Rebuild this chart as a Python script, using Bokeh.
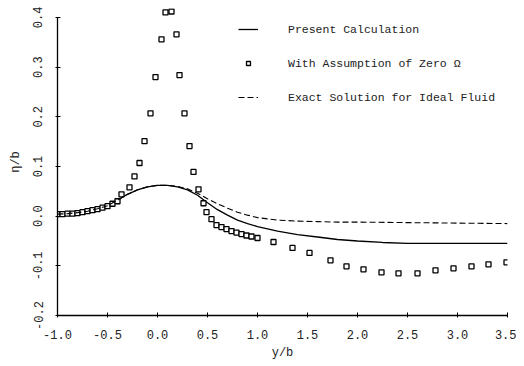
from bokeh.plotting import figure
from bokeh.models import FixedTicker, Legend, LegendItem, Range1d
from bokeh.embed import file_html
from bokeh.resources import INLINE

# Present Calculation (solid)
calc_x = [-1.0, -0.9, -0.8, -0.7, -0.6, -0.5, -0.4, -0.3, -0.2, -0.1, 0.0, 0.1, 0.2, 0.3, 0.4, 0.5,
          0.6, 0.7, 0.8, 0.9, 1.0, 1.2, 1.4, 1.6, 1.8, 2.0, 2.25, 2.5, 3.0, 3.5]
calc_y = [0.004, 0.005, 0.007, 0.010, 0.015, 0.021, 0.032, 0.044, 0.053, 0.059, 0.062, 0.062, 0.059,
          0.053, 0.042, 0.027, 0.013, 0.002, -0.008, -0.015, -0.021, -0.030, -0.037, -0.042, -0.047,
          -0.050, -0.053, -0.055, -0.055, -0.055]

# Exact Solution for Ideal Fluid (dashed)
exact_x = [-1.0, -0.9, -0.8, -0.7, -0.6, -0.5, -0.4, -0.3, -0.2, -0.1, 0.0, 0.1, 0.2, 0.3, 0.4, 0.5,
           0.6, 0.7, 0.8, 0.9, 1.0, 1.2, 1.4, 1.6, 1.8, 2.0, 2.5, 3.0, 3.5]
exact_y = [0.004, 0.005, 0.007, 0.010, 0.015, 0.021, 0.032, 0.044, 0.053, 0.059, 0.062, 0.062, 0.060,
           0.055, 0.046, 0.035, 0.025, 0.016, 0.008, 0.002, -0.003, -0.008, -0.010, -0.011, -0.012,
           -0.012, -0.013, -0.014, -0.015]

# With Assumption of Zero Omega (squares)
zero_x = [-1.0, -0.95, -0.9, -0.85, -0.8, -0.75, -0.7, -0.65, -0.6, -0.55, -0.5, -0.45, -0.4,
          -0.36, -0.28, -0.23, -0.18, -0.13, -0.07, -0.02, 0.04, 0.08, 0.14, 0.19, 0.22, 0.27,
          0.32, 0.36, 0.41, 0.46, 0.49, 0.54, 0.59, 0.64, 0.69, 0.74, 0.79, 0.84, 0.89, 0.94,
          1.0, 1.16, 1.35, 1.52, 1.73, 1.89, 2.06, 2.24, 2.41, 2.60, 2.78, 2.96, 3.14, 3.31, 3.49]
zero_y = [0.004, 0.004, 0.005, 0.005, 0.006, 0.008, 0.010, 0.012, 0.014, 0.017, 0.020, 0.025, 0.030,
          0.044, 0.058, 0.080, 0.107, 0.151, 0.207, 0.280, 0.356, 0.410, 0.412, 0.366, 0.284, 0.207,
          0.141, 0.089, 0.054, 0.026, 0.008, -0.006, -0.018, -0.022, -0.026, -0.030, -0.033, -0.036,
          -0.039, -0.041, -0.044, -0.052, -0.064, -0.074, -0.089, -0.101, -0.107, -0.113, -0.115,
          -0.115, -0.109, -0.105, -0.101, -0.097, -0.093]

x_ticks = [-1.0, -0.5, 0.0, 0.5, 1.0, 1.5, 2.0, 2.5, 3.0, 3.5]
y_ticks = [-0.2, -0.1, 0.0, 0.1, 0.2, 0.3, 0.4]
x_labels = ["-1.0", "-0.5", "0.0", "0.5", "1.0", "1.5", "2.0", "2.5", "3.0", "3.5"]
y_labels = ["-0.2", "-0.1", "0.0", "0.1", "0.2", "0.3", "0.4"]

FONT = "Liberation Mono"
INK = "#222222"

p = figure(width=516, height=362, output_backend="svg", toolbar_location=None,
           x_range=Range1d(-1.0, 3.5), y_range=Range1d(-0.2, 0.418),
           min_border_left=57, min_border_right=9, min_border_top=8, min_border_bottom=45)
p.outline_line_color = None
p.xgrid.visible = False
p.ygrid.visible = False

r_calc = p.line(calc_x, calc_y, line_color="black", line_width=1.3)
r_zero = p.scatter(zero_x, zero_y, marker="square", size=5, fill_color="white",
                   line_color="black", line_width=1.3)
r_exact = p.line(exact_x, exact_y, line_color="black", line_width=1.1, line_dash="6 3")

p.xaxis.ticker = FixedTicker(ticks=x_ticks)
p.yaxis.ticker = FixedTicker(ticks=y_ticks)
p.xaxis.major_label_overrides = {t: l for t, l in zip(x_ticks, x_labels)}
p.yaxis.major_label_overrides = {t: l for t, l in zip(y_ticks, y_labels)}
p.yaxis.major_label_orientation = "vertical"
p.yaxis.bounds = (-0.2, 0.4)

for ax in (p.xaxis[0], p.yaxis[0]):
    ax.axis_line_color = "black"
    ax.axis_line_width = 1.3
    ax.major_tick_line_color = "black"
    ax.major_tick_in = 3
    ax.major_tick_out = 2
    ax.minor_tick_line_color = None
    ax.major_label_text_font = FONT
    ax.major_label_text_font_size = "12px"
    ax.major_label_text_color = INK
    ax.axis_label_text_font = FONT
    ax.axis_label_text_font_size = "12px"
    ax.axis_label_text_font_style = "normal"
    ax.axis_label_text_color = INK

p.xaxis.major_label_standoff = 12
p.yaxis.major_label_standoff = 13
p.xaxis.axis_label = "y/b"
p.yaxis.axis_label = "η/b"
p.xaxis.axis_label_standoff = 4
p.yaxis.axis_label_standoff = 8

legend = Legend(items=[
    LegendItem(label="Present Calculation", renderers=[r_calc]),
    LegendItem(label="With Assumption of Zero Ω", renderers=[r_zero]),
    LegendItem(label="Exact Solution for Ideal Fluid", renderers=[r_exact]),
], location=(181, 208))
legend.background_fill_alpha = 0
legend.border_line_color = None
legend.padding = 0
legend.margin = 0
legend.spacing = 14
legend.glyph_width = 20
legend.glyph_height = 10
legend.label_height = 20
legend.label_standoff = 30
legend.label_text_font = FONT
legend.label_text_font_size = "11.5px"
legend.label_text_color = INK
p.add_layout(legend)

open("out.html", "w").write(file_html(p, INLINE))
